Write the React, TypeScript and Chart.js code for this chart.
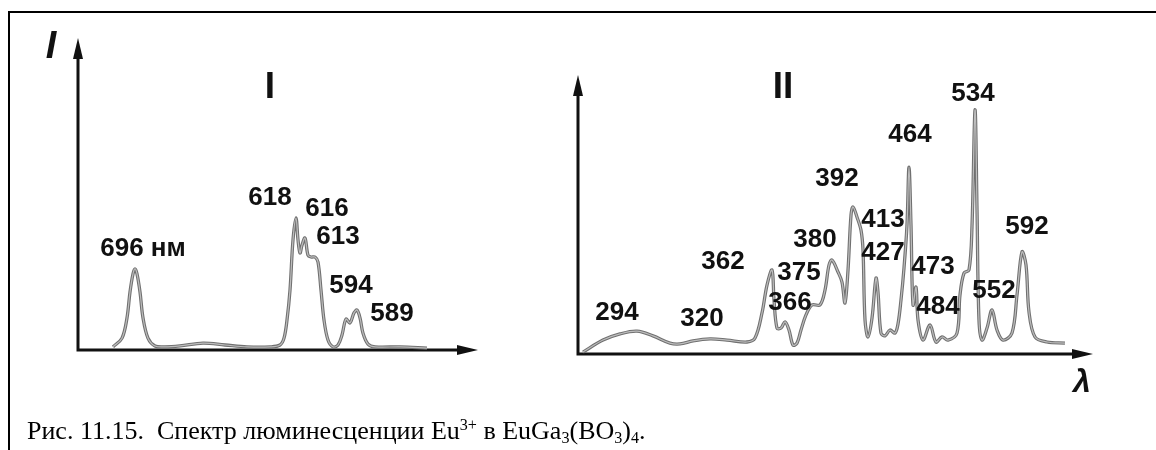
import React, { useEffect, useRef } from "react";
import { Chart, registerables } from "chart.js";

Chart.register(...registerables);

// ---- Panel I : emission spectrum (position along axis 0..100, intensity 0..100) ----
const emissionX = [8.75, 11, 12.25, 13, 13.75, 14.25, 14.75, 15.5, 16.25, 17.5, 19.25, 21.75, 25.5, 31.25, 36.75, 42.25, 48, 50.5, 51.5, 52.25, 53, 53.75, 54.5, 55, 55.5, 56, 56.75, 57.5, 58.25, 59.25, 60, 60.75, 61.5, 62.5, 63.75, 65, 66, 67, 68, 69, 69.75, 70.5, 71.25, 72.5, 74.25, 80.5, 87.25];
const emissionY = [1.0, 3.8, 10.3, 18.6, 24.4, 26.0, 24.4, 18.6, 10.3, 3.8, 1.3, 1.0, 1.3, 2.2, 1.6, 1.0, 1.0, 1.6, 3.8, 9.6, 19.2, 35.3, 42.3, 35.3, 31.1, 33.6, 35.9, 30.4, 29.8, 29.8, 28.2, 19.2, 9.6, 3.2, 1.0, 1.6, 4.8, 9.9, 8.7, 11.9, 12.8, 10.3, 5.4, 1.9, 1.0, 1.0, 0.6];

const emissionLabels = ["696 нм", "618", "616", "613", "594", "589"];
const emissionLabelX = [16.25, 48, 62.25, 65, 68.25, 78.5];
const emissionLabelY = [32.4, 48.7, 45.2, 36.2, 20.5, 11.5];

// ---- Panel II : excitation spectrum ----
const excitationX = [0.97, 4.85, 8.16, 11.46, 14.56, 17.86, 19.8, 22.33, 25.63, 28.93, 32.82, 34.37, 35.73, 36.7, 37.67, 38.06, 38.64, 39.42, 40.19, 40.97, 41.75, 42.52, 43.3, 44.27, 45.44, 47, 47.96, 48.74, 49.32, 50.49, 51.26, 51.84, 52.43, 53.01, 53.4, 54.17, 54.95, 55.34, 55.73, 56.31, 57.09, 57.86, 58.25, 58.83, 59.61, 60.58, 61.55, 62.14, 62.72, 63.3, 63.88, 64.27, 64.66, 65.05, 65.63, 66.02, 66.99, 68.35, 69.51, 70.68, 71.84, 73.59, 74.17, 74.95, 75.92, 76.5, 77.09, 77.48, 77.86, 78.45, 79.42, 80.39, 81.36, 82.52, 84.27, 85.24, 86.21, 86.99, 87.57, 88.74, 91.07, 94.56];
const excitationY = [0.7, 5.0, 7.2, 8.2, 6.5, 3.9, 3.6, 4.7, 5.4, 5.0, 4.3, 5.7, 14.7, 24.7, 30.1, 19.4, 9.3, 9.3, 11.5, 8.6, 3.2, 3.9, 8.6, 14.0, 17.6, 17.6, 22.9, 31.9, 33.7, 29.4, 25.8, 18.3, 30.1, 49.8, 52.7, 49.1, 44.4, 37.3, 12.2, 6.1, 12.9, 27.2, 22.2, 7.5, 6.5, 8.6, 7.5, 10.8, 19.4, 30.8, 46.2, 67.0, 46.2, 17.6, 24.0, 12.2, 5.0, 10.4, 4.3, 6.1, 5.0, 7.5, 21.1, 29.0, 30.1, 45.5, 87.5, 51.6, 12.2, 5.0, 9.3, 15.8, 8.6, 5.0, 7.5, 21.1, 36.6, 31.9, 15.1, 6.1, 4.3, 3.9];

const excitationLabels = ["294", "320", "362", "366", "375", "380", "392", "413", "427", "464", "473", "484", "534", "552", "592"];
const excitationLabelX = [7.57, 24.08, 28.16, 41.17, 42.91, 46.02, 50.29, 59.22, 59.22, 64.47, 68.93, 69.9, 76.7, 80.78, 87.18];
const excitationLabelY = [14.7, 12.5, 33.0, 18.3, 29.0, 40.9, 62.7, 48.0, 36.2, 78.5, 31.2, 16.8, 93.2, 22.6, 45.5];

const W = 1156;
const H = 450;
const NUM_FONT = "bold 26px 'Liberation Sans', Arial, sans-serif";

type Extra = { text: string; x: number; y: number; font: string };

function makePanel(
  canvas: HTMLCanvasElement,
  xs: number[],
  ys: number[],
  labels: string[],
  lx: number[],
  ly: number[],
  extras: Extra[],
  padding: { left: number; right: number; top: number; bottom: number }
) {
  const points = xs.map((x, i) => ({ x, y: ys[i] }));
  const axesPlugin = {
    id: "axesArrows",
    beforeDatasetsDraw(chart: any) {
      const { ctx, chartArea } = chart;
      const { left, right, top, bottom } = chartArea;
      ctx.save();
      ctx.strokeStyle = "#111";
      ctx.fillStyle = "#111";
      ctx.lineWidth = 3;
      ctx.beginPath();
      ctx.moveTo(left, bottom);
      ctx.lineTo(left, top + 16);
      ctx.moveTo(left - 1.5, bottom);
      ctx.lineTo(right - 16, bottom);
      ctx.stroke();
      ctx.beginPath();
      ctx.moveTo(left, top);
      ctx.lineTo(left - 5, top + 21);
      ctx.lineTo(left + 5, top + 21);
      ctx.closePath();
      ctx.fill();
      ctx.beginPath();
      ctx.moveTo(right, bottom);
      ctx.lineTo(right - 21, bottom - 5);
      ctx.lineTo(right - 21, bottom + 5);
      ctx.closePath();
      ctx.fill();
      ctx.restore();
    },
    afterDraw(chart: any) {
      const { ctx } = chart;
      const xs = chart.scales.x;
      const ysc = chart.scales.y;
      ctx.save();
      ctx.fillStyle = "#111";
      ctx.textAlign = "center";
      ctx.textBaseline = "middle";
      ctx.font = NUM_FONT;
      labels.forEach((t, i) => {
        ctx.fillText(t, xs.getPixelForValue(lx[i]), ysc.getPixelForValue(ly[i]));
      });
      extras.forEach((e) => {
        ctx.font = e.font;
        ctx.fillText(e.text, xs.getPixelForValue(e.x), ysc.getPixelForValue(e.y));
      });
      ctx.restore();
    },
  };
  return new Chart(canvas, {
    type: "line",
    data: {
      datasets: [
        {
          data: points,
          borderColor: "#bdbdbd",
          borderWidth: 1.2,
          pointRadius: 0,
          tension: 0.35,
          fill: false,
        },
        {
          data: points,
          borderColor: "#707070",
          borderWidth: 3.3,
          pointRadius: 0,
          tension: 0.35,
          fill: false,
        },
      ],
    },
    options: {
      responsive: false,
      animation: false,
      devicePixelRatio: 1,
      layout: { padding },
      plugins: { legend: { display: false }, tooltip: { enabled: false }, title: { display: false } },
      scales: {
        x: { type: "linear", min: 0, max: 100, display: false },
        y: { type: "linear", min: 0, max: 100, display: false },
      },
    },
    plugins: [axesPlugin],
  });
}

export default function App() {
  const ref1 = useRef<HTMLCanvasElement>(null);
  const ref2 = useRef<HTMLCanvasElement>(null);

  useEffect(() => {
    const c1 = makePanel(
      ref1.current!,
      emissionX,
      emissionY,
      emissionLabels,
      emissionLabelX,
      emissionLabelY,
      [
        { text: "I", x: 48, y: 84.0, font: "bold 37px 'Liberation Sans', Arial, sans-serif" },
        { text: "I", x: -6.75, y: 97.1, font: "italic bold 38px 'Liberation Sans', Arial, sans-serif" },
      ],
      { left: 78, right: W - 478, top: 38, bottom: H - 350 }
    );
    const c2 = makePanel(
      ref2.current!,
      excitationX,
      excitationY,
      excitationLabels,
      excitationLabelX,
      excitationLabelY,
      [
        { text: "II", x: 39.81, y: 95.3, font: "bold 37px 'Liberation Sans', Arial, sans-serif" },
        { text: "λ", x: 97.86, y: -10.4, font: "italic bold 32px 'Liberation Sans', Arial, sans-serif" },
      ],
      { left: 578, right: W - 1093, top: 75, bottom: H - 354 }
    );
    return () => {
      c1.destroy();
      c2.destroy();
    };
  }, []);

  return (
    <div style={{ position: "absolute", left: 0, top: 0, width: W, height: H, overflow: "hidden", background: "#fff" }}>
      <div
        style={{
          position: "absolute",
          left: 8,
          top: 11,
          width: W - 8,
          height: H - 11,
          borderTop: "2px solid #000",
          borderLeft: "2px solid #000",
          boxSizing: "border-box",
        }}
      />
      <canvas ref={ref1} width={W} height={H} style={{ position: "absolute", left: 0, top: 0 }} />
      <canvas ref={ref2} width={W} height={H} style={{ position: "absolute", left: 0, top: 0 }} />
      <div
        style={{
          position: "absolute",
          left: 27,
          top: 418,
          fontFamily: "'Liberation Serif', 'Times New Roman', serif",
          fontSize: 26,
          lineHeight: "26px",
          color: "#000",
          whiteSpace: "pre",
        }}
      >
        {"Рис. 11.15.  Спектр люминесценции Eu"}
        <sup style={{ fontSize: "0.62em", lineHeight: 0, verticalAlign: "0.55em" }}>3+</sup>
        {" в EuGa"}
        <sub style={{ fontSize: "0.62em", lineHeight: 0, verticalAlign: "-0.25em" }}>3</sub>
        {"(BO"}
        <sub style={{ fontSize: "0.62em", lineHeight: 0, verticalAlign: "-0.25em" }}>3</sub>
        {")"}
        <sub style={{ fontSize: "0.62em", lineHeight: 0, verticalAlign: "-0.25em" }}>4</sub>
        {"."}
      </div>
    </div>
  );
}
